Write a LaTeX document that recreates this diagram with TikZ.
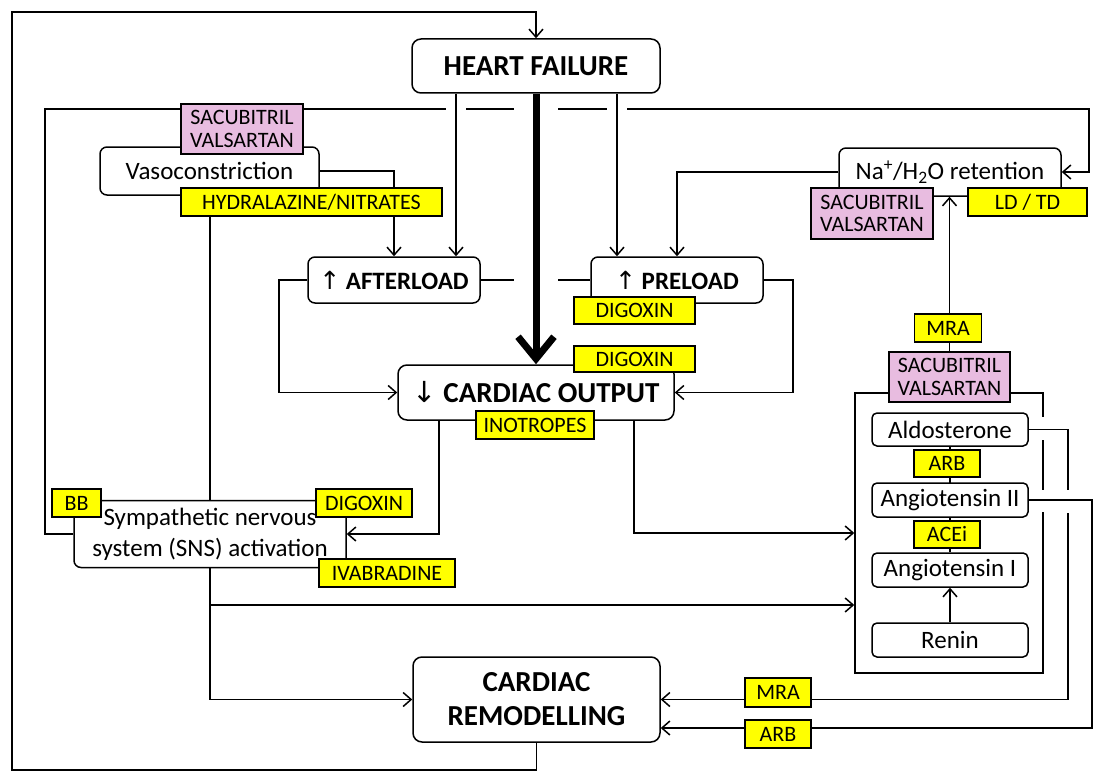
\documentclass[tikz,border=0pt]{standalone}
\usepackage{fontspec}
\setmainfont{Carlito}
\newfontfamily\symf{DejaVu Sans}
\usetikzlibrary{arrows.meta}
\pgfdeclarelayer{bg}
\pgfsetlayers{bg,main}
\definecolor{dy}{RGB}{255,255,0}
\definecolor{pk}{RGB}{232,188,224}
\tikzset{
  wh/.style 2 args={minimum width=#1pt, minimum height=#2pt},
  box/.style={draw, line width=1.5pt, rounded corners=7pt, fill=white, inner sep=0pt, align=center, font=\fontsize{25}{30}\selectfont},
  sbox/.style={box, rounded corners=5pt},
  bbox/.style={box, rounded corners=9pt, font=\fontsize{29}{34}\bfseries\selectfont},
  mbox/.style={box, rounded corners=7pt, font=\fontsize{25}{29}\bfseries\selectfont},
  drug/.style={draw, line width=1.5pt, fill=dy, inner sep=0pt, align=center, font=\fontsize{22}{22.5}\selectfont},
  pdrug/.style={drug, fill=pk},
  ln/.style={line width=1.5pt},
  arr/.style={line width=1.5pt, -{Straight Barb[length=8pt,width=14pt]}},
  bigarr/.style={line width=7pt, -{Straight Barb[length=22pt,width=36pt]}},
  bridge/.style={draw=white, line width=5pt}
}
\begin{document}
\begin{tikzpicture}[x=1pt,y=-1pt]
\useasboundingbox (0,0) rectangle (1112,784);
% main boxes
\node[bbox, wh={248}{54}] (hf) at (536,66) {HEART FAILURE};
\node[box, wh={219}{48}] (vaso) at (209.5,171) {Vasoconstriction};
\node[pdrug, wh={122}{50}] (sv1) at (242,129) {SACUBITRIL\\VALSARTAN};
\node[drug, wh={261}{28}] (hyd) at (311.5,202) {HYDRALAZINE/NITRATES};
\node[mbox, wh={172}{46}] (after) at (394,280) {{\symf\mdseries ↑} AFTERLOAD};
\node[mbox, wh={172}{46}] (pre) at (677,280) {{\symf\mdseries ↑} PRELOAD};
\node[drug, wh={121}{27}] (dig1) at (634.5,310.5) {DIGOXIN};
\node[bbox, wh={276}{55}] (co) at (536,392.5) {{\symf\mdseries ↓} CARDIAC OUTPUT};
\node[drug, wh={121}{26}] (dig2) at (634.5,359) {DIGOXIN};
\node[drug, wh={118}{28}] (ino) at (535,425) {INOTROPES};
\node[box, wh={222}{48}] (na) at (950,172) {Na\textsuperscript{+}/H\textsubscript{2}O retention};
\node[pdrug, wh={122}{51}] (sv2) at (872,213.5) {SACUBITRIL\\VALSARTAN};
\node[drug, wh={119}{28}] (ldtd) at (1027.5,202) {LD / TD};
\node[drug, wh={67}{28}] (mra1) at (948,328) {MRA};
\node[pdrug, wh={121}{50}] (sv3) at (949.5,377) {SACUBITRIL\\VALSARTAN};
\node[sbox, wh={156}{33}] (aldo) at (950,429.5) {Aldosterone};
\node[drug, wh={66}{27}] (arb1) at (947,463.5) {ARB};
\node[sbox, wh={156}{34}] (ang2) at (950,500) {Angiotensin II};
\node[drug, wh={66}{27}] (acei) at (947,534.5) {ACEi};
\node[sbox, wh={156}{34}] (ang1) at (950,570) {Angiotensin I};
\node[sbox, wh={156}{34}] (renin) at (950,640) {Renin};
\node[box, wh={272}{67}, font=\fontsize{25}{31}\selectfont] (sns) at (210,534) {Sympathetic nervous\\system (SNS) activation};
\node[drug, wh={49}{28}] (bb) at (76.5,503) {BB};
\node[drug, wh={96}{28}] (dig3) at (364,503) {DIGOXIN};
\node[drug, wh={136}{28}] (iva) at (387,573) {IVABRADINE};
\node[bbox, wh={247}{85}] (rem) at (536.5,699.5) {CARDIAC\\REMODELLING};
\node[drug, wh={66}{29}] (mra2) at (778,692.5) {MRA};
\node[drug, wh={66}{28}] (arb2) at (778,734) {ARB};
\begin{pgfonlayer}{bg}
\node[draw, line width=1.5pt, minimum width=188pt, minimum height=280pt, inner sep=0pt] (raas) at (949,533) {};
% outer feedback loop
\coordinate (lb) at (12,770);
\coordinate (lt) at (12,12);
\draw[arr] (rem.south) |- (lb) -- (lt) -| (hf.north);
% SNS -> Na retention
\coordinate (sl) at (45,109);
\coordinate (sr) at (1089,109);
\draw[arr] (sns.west) -| (sl) -- (sr) |- (na.east);
% afterload - preload
\draw[ln] (after.east) -- (pre.west);
% crossing gaps
\draw[bridge] (446,109) -- (466,109);
\draw[bridge] (514,109) -- (558,109);
\draw[bridge] (607,109) -- (627,109);
\draw[bridge] (514,280) -- (558,280);
% heart failure outputs
\coordinate (xa) at (456,0);
\coordinate (xp) at (617,0);
\draw[arr] (hf.south -| xa) -- (after.north -| xa);
\draw[arr] (hf.south -| xp) -- (pre.north -| xp);
\draw[bigarr] (hf.south) -- (co.north);
% vasoconstriction / Na -> loads
\draw[arr] (vaso.east) -| (after.north);
\draw[arr] (na.west) -| (pre.north);
% loads -> cardiac output
\coordinate (al) at (279,280);
\coordinate (pr) at (793,280);
\draw[arr] (after.west) -- (al) |- (co.west);
\draw[arr] (pre.east) -- (pr) |- (co.east);
% cardiac output -> SNS, RAAS
\coordinate (x439) at (439,0);
\coordinate (x634) at (634,0);
\draw[arr] (co.south -| x439) |- (sns.east);
\draw[arr] (co.south -| x634) |- (raas.west);
% SNS -> vasoconstriction, RAAS, remodelling
\draw[ln] (sns.north) -- (hyd.south -| sns.north);
\draw[arr] (sns.south) |- (rem.west);
\coordinate (b605) at (210,605);
\draw[arr] (b605) -- (b605 -| raas.west);
% RAAS -> Na retention
\draw[arr] (sv3.north) -- (sv3.north |- na.south);
% RAAS chain
\draw[ln] (ang1.north) -- (aldo.south);
\draw[arr] (renin.north) -- (ang1.south);
% RAAS -> remodelling
\draw[bridge] (1043,417) -- (1043,440);
\coordinate (ax) at (1068,0);
\draw[arr] (aldo.east) -| (ax |- rem.east) -- (rem.east);
\draw[bridge] (1043,490) -- (1043,512);
\draw[bridge] (1068,490) -- (1068,513);
\coordinate (bx) at (1092,728);
\draw[arr] (ang2.east) -| (bx) -- (bx -| rem.east);
\end{pgfonlayer}
\end{tikzpicture}
\end{document}
